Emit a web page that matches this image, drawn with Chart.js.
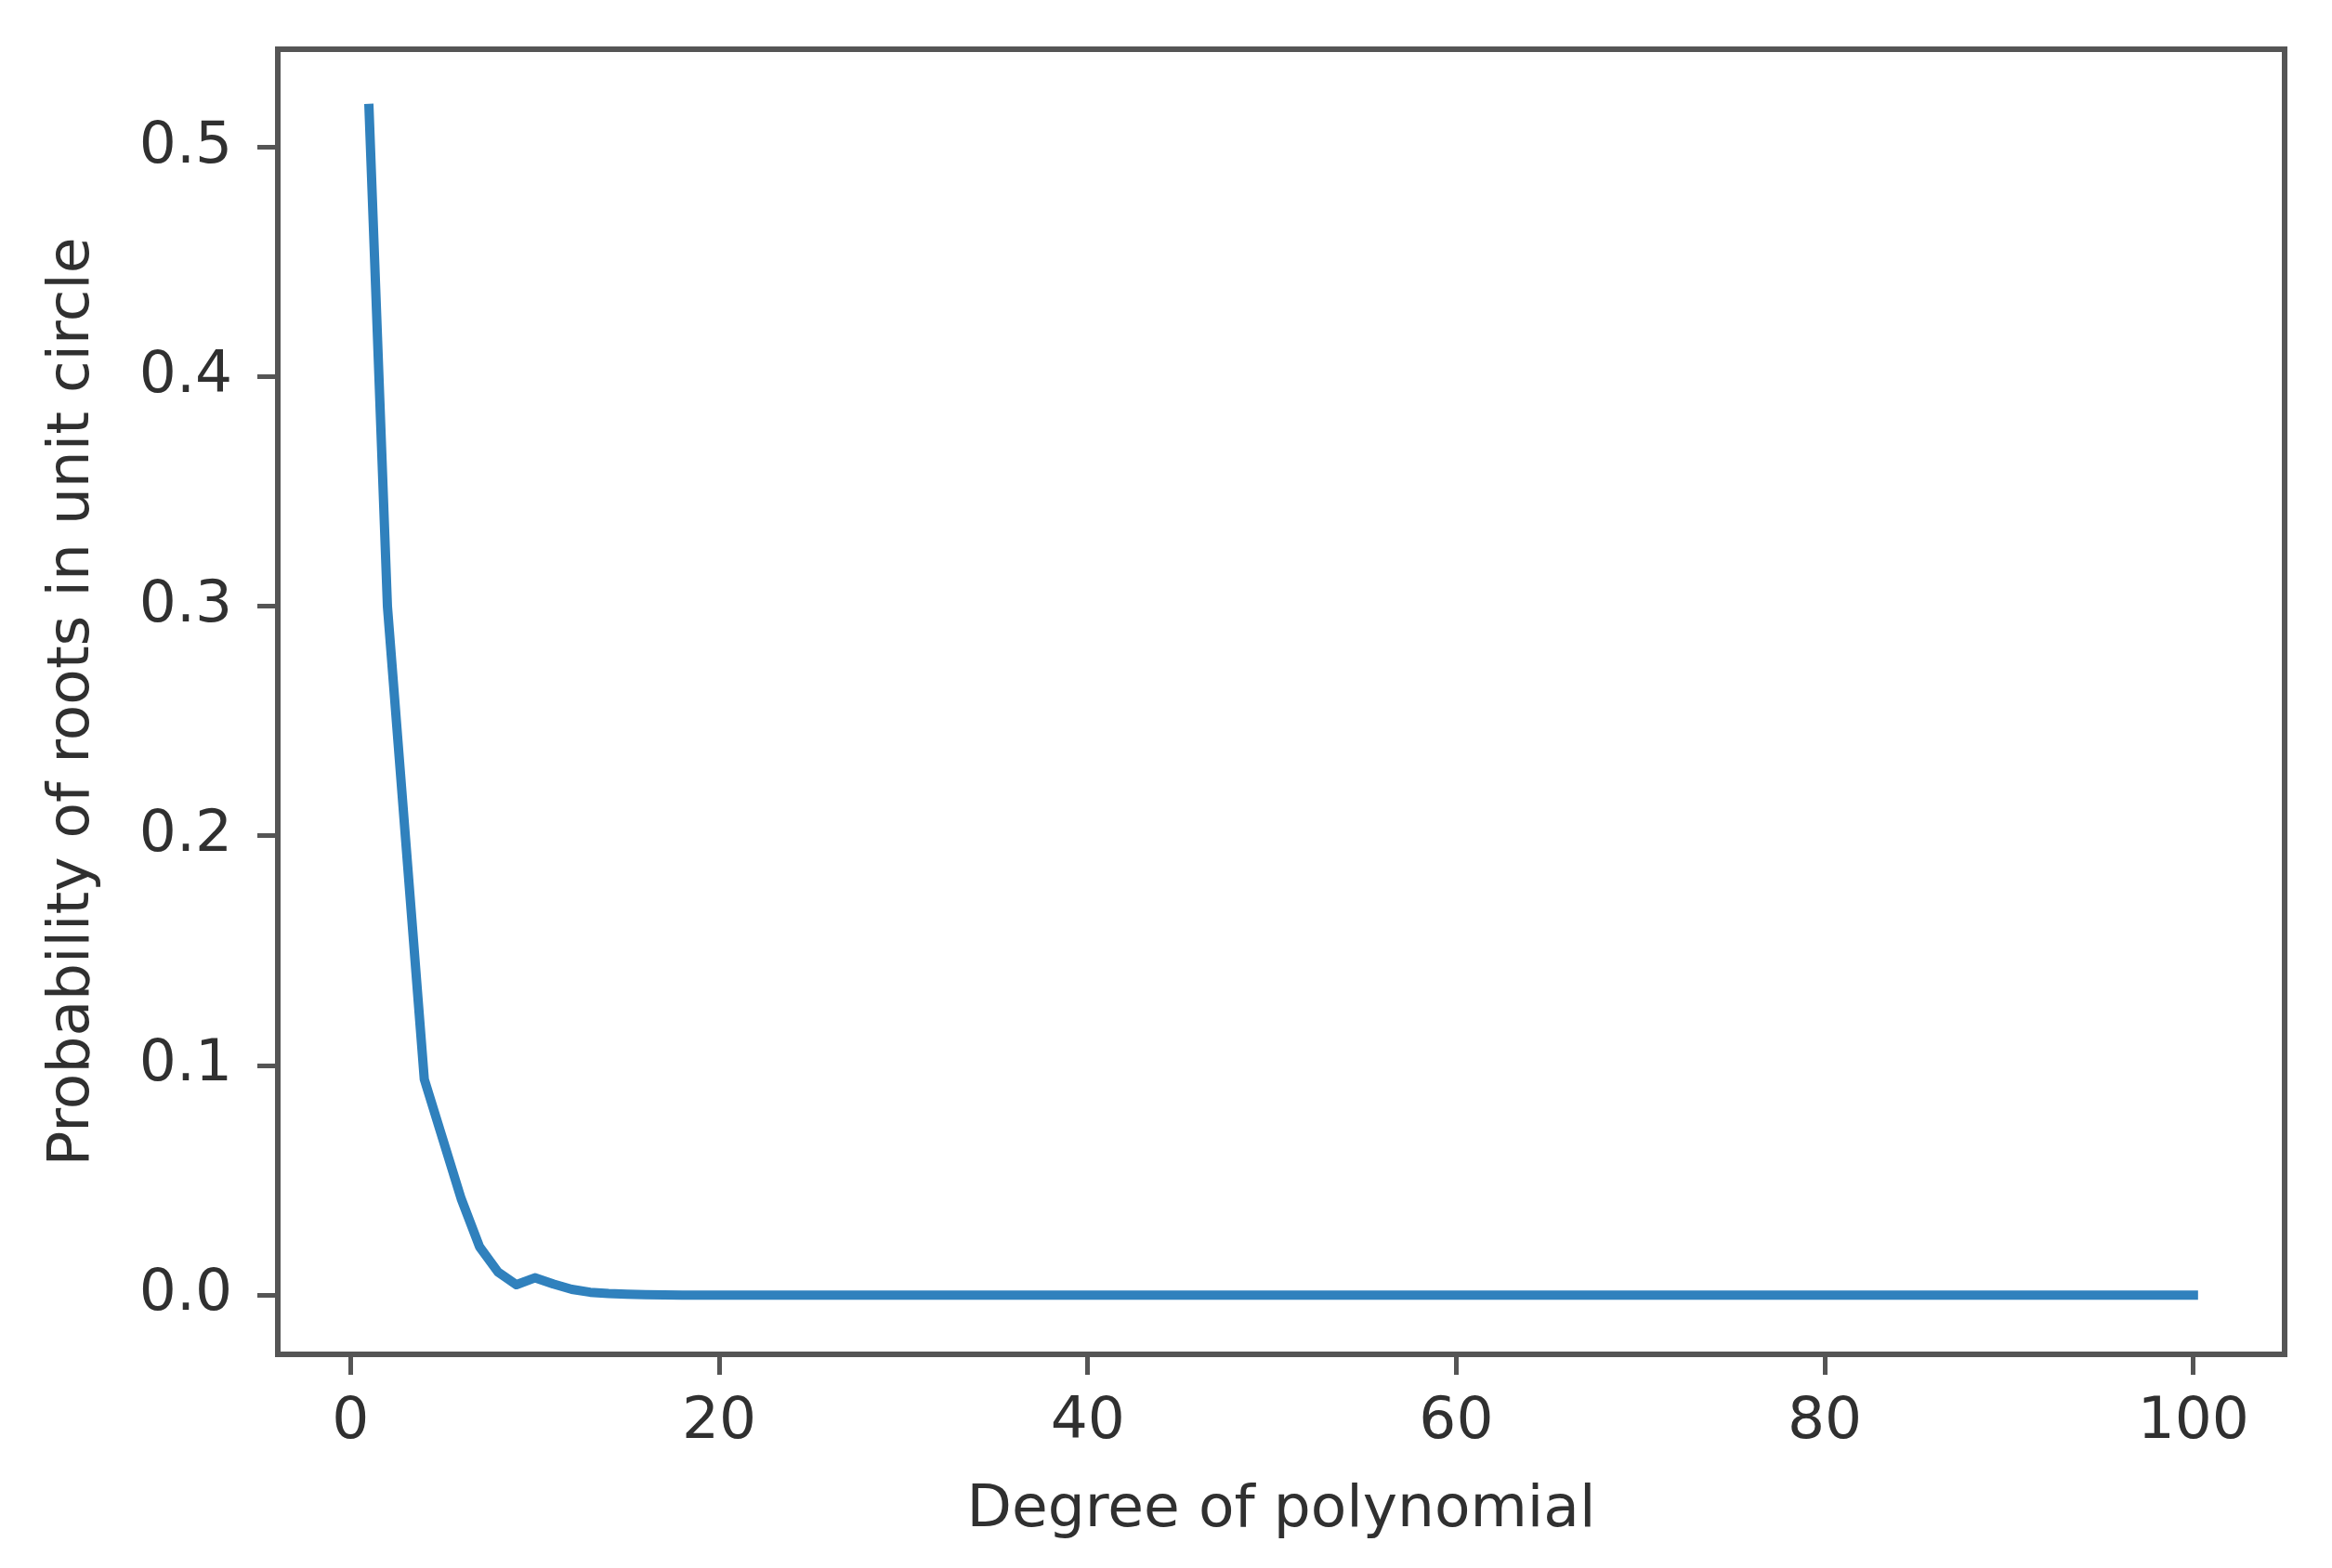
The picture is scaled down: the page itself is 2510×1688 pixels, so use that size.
<!DOCTYPE html>
<html>
<head>
<meta charset="utf-8">
<script src="https://cdn.jsdelivr.net/npm/chart.js@4.4.1/dist/chart.umd.min.js"></script>
<style>
    html, body { margin: 0; padding: 0; background: #fff; }
    #wrap { width: 2510px; height: 1688px; position: relative; }
</style>
</head>
<body>
<div id="wrap"><canvas id="chart"></canvas></div>
<script>
// Degree of polynomial (x) and estimated probability (y)
const degrees = [
    1, 2, 3, 4, 5, 6, 7, 8, 9, 10, 11, 12, 13, 14, 15, 16, 17, 18, 19, 20,
    21, 22, 23, 24, 25, 26, 27, 28, 29, 30, 31, 32, 33, 34, 35, 36, 37, 38, 39, 40,
    41, 42, 43, 44, 45, 46, 47, 48, 49, 50, 51, 52, 53, 54, 55, 56, 57, 58, 59, 60,
    61, 62, 63, 64, 65, 66, 67, 68, 69, 70, 71, 72, 73, 74, 75, 76, 77, 78, 79, 80,
    81, 82, 83, 84, 85, 86, 87, 88, 89, 90, 91, 92, 93, 94, 95, 96, 97, 98, 99, 100
];
const probabilities = [
    0.517, 0.300, 0.197, 0.094, 0.068, 0.042, 0.021, 0.010, 0.0045, 0.0075,
    0.0048, 0.0025, 0.0012, 0.0007, 0.0004, 0.0002, 0.0001, 0, 0, 0,
    0, 0, 0, 0, 0, 0, 0, 0, 0, 0,
    0, 0, 0, 0, 0, 0, 0, 0, 0, 0,
    0, 0, 0, 0, 0, 0, 0, 0, 0, 0,
    0, 0, 0, 0, 0, 0, 0, 0, 0, 0,
    0, 0, 0, 0, 0, 0, 0, 0, 0, 0,
    0, 0, 0, 0, 0, 0, 0, 0, 0, 0,
    0, 0, 0, 0, 0, 0, 0, 0, 0, 0,
    0, 0, 0, 0, 0, 0, 0, 0, 0, 0
];
const xTicks = [0, 20, 40, 60, 80, 100];
const yTicks = [0.0, 0.1, 0.2, 0.3, 0.4, 0.5];

const textColor = '#303030';
const spineColor = '#555555';
const fontFamily = "'DejaVu Sans', 'Liberation Sans', sans-serif";

// matplotlib-style box around the axes
const framePlugin = {
    id: 'frame',
    afterDatasetsDraw(chart) {
        const { ctx, chartArea: a } = chart;
        ctx.save();
        ctx.strokeStyle = spineColor;
        ctx.lineWidth = 6;
        ctx.strokeRect(a.left, a.top, a.right - a.left, a.bottom - a.top);
        ctx.restore();
    }
};

const points = degrees.map((d, i) => ({ x: d, y: probabilities[i] }));

new Chart(document.getElementById('chart'), {
    type: 'line',
    data: {
        datasets: [{
            data: points,
            borderColor: '#3081bd',
            borderWidth: 10,
            borderJoinStyle: 'round',
            borderCapStyle: 'square',
            pointRadius: 0,
            tension: 0,
            fill: false
        }]
    },
    options: {
        responsive: true,
        maintainAspectRatio: false,
        devicePixelRatio: 1,
        animation: false,
        layout: { padding: { top: 53, right: 51, bottom: 0, left: 0 } },
        plugins: {
            legend: { display: false },
            tooltip: { enabled: false }
        },
        scales: {
            x: {
                type: 'linear',
                min: -3.95,
                max: 104.95,
                afterFit: s => {
                    s.height = 230;
                    s.paddingLeft = 0;
                    s.paddingRight = 0;
                },
                afterBuildTicks: s => { s.ticks = xTicks.map(v => ({ value: v })); },
                border: { display: false },
                grid: {
                    drawOnChartArea: false,
                    drawTicks: true,
                    tickLength: 22,
                    lineWidth: 5,
                    tickWidth: 5,
                    color: spineColor,
                    tickColor: spineColor
                },
                ticks: {
                    color: textColor,
                    padding: 14,
                    maxRotation: 0,
                    autoSkip: false,
                    font: { family: fontFamily, size: 63 },
                    callback: v => v.toFixed(0)
                },
                title: {
                    display: true,
                    text: 'Degree of polynomial',
                    color: textColor,
                    padding: { top: 0, bottom: 24 },
                    font: { family: fontFamily, size: 63 }
                }
            },
            y: {
                type: 'linear',
                min: -0.02585,
                max: 0.5428,
                afterFit: s => {
                    s.width = 299;
                    s.paddingTop = 0;
                    s.paddingBottom = 0;
                },
                afterBuildTicks: s => { s.ticks = yTicks.map(v => ({ value: v })); },
                border: { display: false },
                grid: {
                    drawOnChartArea: false,
                    drawTicks: true,
                    tickLength: 22,
                    lineWidth: 5,
                    tickWidth: 5,
                    color: spineColor,
                    tickColor: spineColor
                },
                ticks: {
                    color: textColor,
                    padding: 27,
                    autoSkip: false,
                    font: { family: fontFamily, size: 63 },
                    callback: v => v.toFixed(1)
                },
                title: {
                    display: true,
                    text: 'Probability of roots in unit circle',
                    color: textColor,
                    padding: { top: 41, bottom: 0 },
                    font: { family: fontFamily, size: 63 }
                }
            }
        }
    },
    plugins: [framePlugin]
});
</script>
</body>
</html>
